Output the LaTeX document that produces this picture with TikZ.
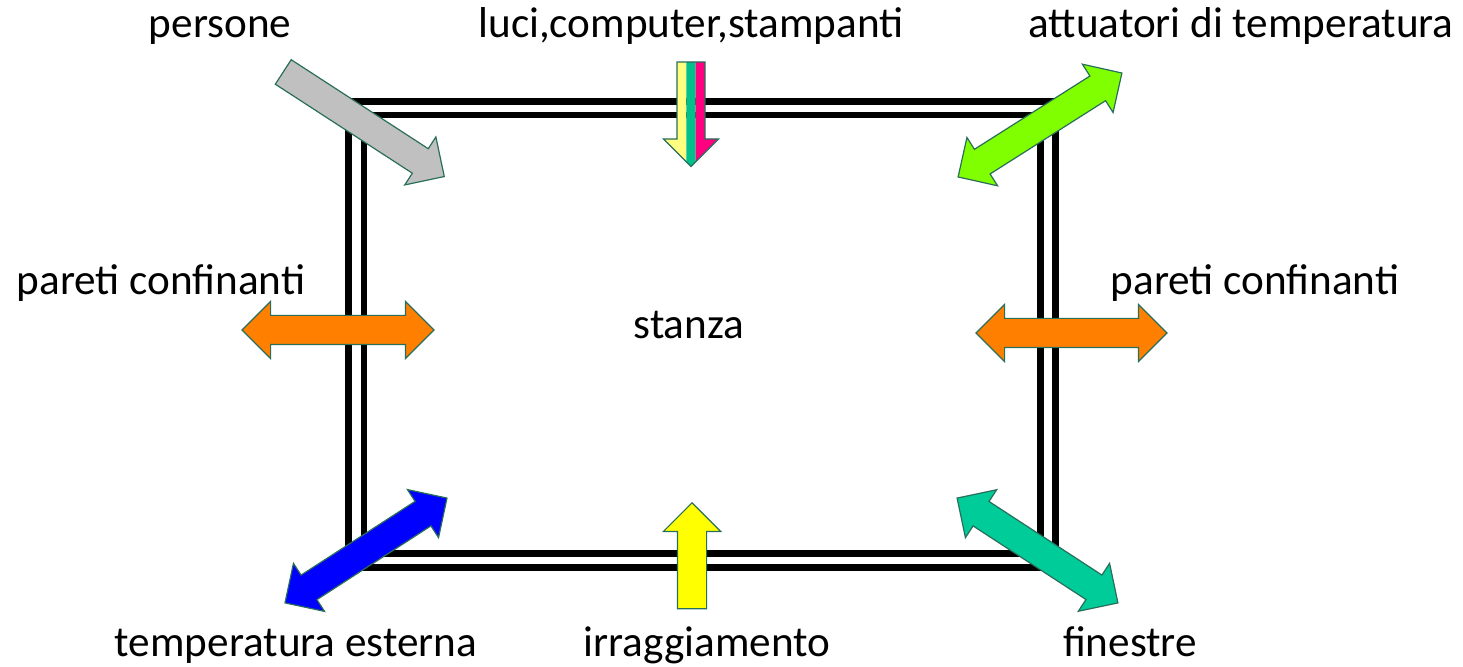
\documentclass[tikz,border=0pt]{standalone}
\usepackage{fontspec}
\setmainfont{Carlito}
\usetikzlibrary{shapes.arrows}
\definecolor{edgec}{RGB}{40,110,90}
\definecolor{grayc}{RGB}{192,192,192}
\definecolor{lyel}{RGB}{255,255,128}
\definecolor{tealc}{RGB}{0,192,140}
\definecolor{magc}{RGB}{255,0,128}
\definecolor{limec}{RGB}{128,255,0}
\definecolor{orangec}{RGB}{255,128,0}
\definecolor{bluec}{RGB}{0,0,255}
\definecolor{yelc}{RGB}{255,255,0}
\definecolor{finc}{RGB}{0,204,153}
\tikzset{
  blk/.style={draw=edgec, line width=0.6pt, inner xsep=0pt, inner ysep=7pt},
  sarr/.style={blk, single arrow, single arrow head extend=7pt, single arrow tip angle=90},
  darr/.style={blk, double arrow, double arrow head extend=7pt, double arrow tip angle=90},
  lbl/.style={inner sep=0pt, anchor=base, font=\fontsize{21.6}{25}\selectfont},
  wall/.style={line width=3.2pt, black}
}
\begin{document}
\begin{tikzpicture}[x=0.5pt, y=-0.5pt]
\useasboundingbox (0,0) rectangle (1463,667);
% walls
\draw[wall] (348.5,101.5) rectangle (1055.5,567.5);
\draw[wall] (364,115) rectangle (1040.5,553.5);
% labels
\node[lbl] (persone) at (220,38) {persone};
\node[lbl] (luci) at (691,38) {luci,computer,stampanti};
\node[lbl] (attuatori) at (1241,38) {attuatori di temperatura};
\node[lbl] (paretiL) at (161,295) {pareti confinanti};
\node[lbl] (paretiR) at (1255,295) {pareti confinanti};
\node[lbl] (stanza) at (689,339) {stanza};
\node[lbl] (esterna) at (296,657) {temperatura esterna};
\node[lbl] (irragg) at (707,657) {irraggiamento};
\node[lbl] (finestre) at (1130,657) {finestre};
% arrows
\node[sarr, fill=grayc, minimum height=96pt, rotate=-33.0, anchor=tip] (aPersone) at (445,177) {};
\node[darr, fill=limec, minimum height=97pt, rotate=32.4, anchor=center] (aAttuatori) at (1040,125) {};
\node[darr, fill=orangec, minimum height=96pt, anchor=center] (aParetiL) at (338,330) {};
\node[darr, fill=orangec, minimum height=95.5pt, anchor=center] (aParetiR) at (1071.5,333) {};
\node[darr, fill=bluec, minimum height=96.5pt, rotate=32.9, anchor=center] (aEsterna) at (366,550.5) {};
\node[sarr, fill=yelc, minimum height=53pt, rotate=90, anchor=tip] (aIrragg) at (692,502) {};
\node[darr, fill=finc, minimum height=96pt, rotate=-33.1, anchor=center] (aFinestre) at (1037.5,550.5) {};
% striped arrow (luci, computer, stampanti)
\fill[lyel] (677,62) -- (686.3,62) -- (686.3,161.8) -- (663.5,139) -- (677,139) -- cycle;
\fill[tealc] (686.3,62) -- (695.7,62) -- (695.7,161.8) -- (691,166.5) -- (686.3,161.8) -- cycle;
\fill[magc] (695.7,62) -- (705,62) -- (705,139) -- (718.5,139) -- (695.7,161.8) -- cycle;
\draw[draw=edgec, line width=0.6pt, line join=miter] (677,62) -- (705,62) -- (705,139) -- (718.5,139) -- (691,166.5) -- (663.5,139) -- (677,139) -- cycle;
\end{tikzpicture}
\end{document}
